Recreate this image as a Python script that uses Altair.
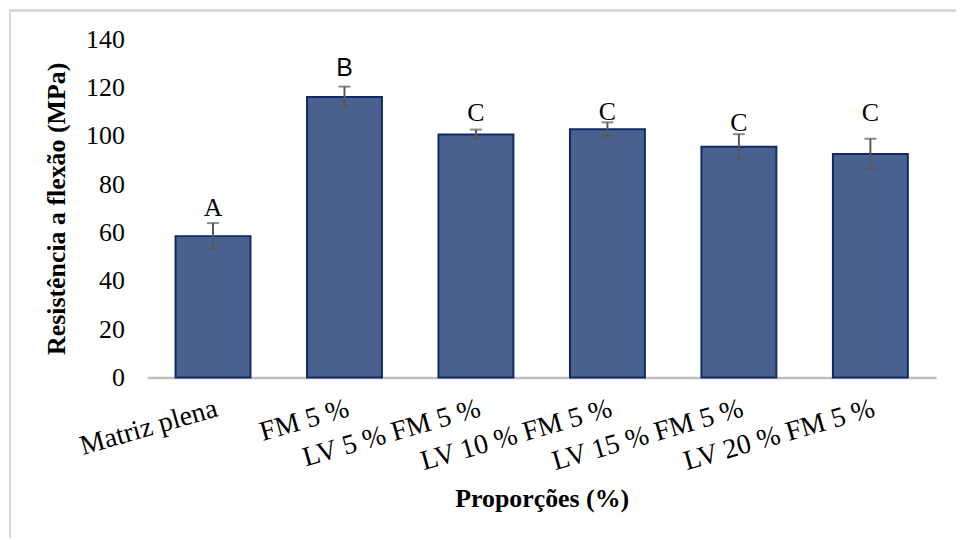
import altair as alt
import pandas as pd

categories = ["Matriz plena", "FM 5 %", "LV 5 % FM 5 %", "LV 10 % FM 5 %", "LV 15 % FM 5 %", "LV 20 % FM 5 %"]
means = [58.5, 116.1, 100.6, 102.7, 95.5, 92.5]
sds = [5.4, 4.3, 2.0, 2.9, 5.2, 6.3]
letters = ["A", "B", "C", "C", "C", "C"]
letter_y = [66.7, 124.8, 106.2, 106.6, 102.1, 106.2]

df = pd.DataFrame({
    "cat": categories,
    "mean": means,
    "lo": [m - s for m, s in zip(means, sds)],
    "hi": [m + s for m, s in zip(means, sds)],
    "letter": letters,
    "ly": letter_y,
})

SERIF = "Liberation Serif"

x_axis = alt.Axis(title="Proporções (%)", labelAngle=-16, labelAlign="right",
                  labelBaseline="top", labelPadding=17, labelFont=SERIF,
                  labelFontSize=28, labelColor="black", labelLimit=400,
                  titleFont=SERIF, titleFontSize=26, titleFontWeight="bold",
                  titleColor="black", titlePadding=10, ticks=False, grid=False,
                  domain=True, domainColor="#c0c0c0", domainWidth=2.5)
y_axis = alt.Axis(title="Resistência a flexão (MPa)", values=[0, 20, 40, 60, 80, 100, 120, 140],
                  grid=False, ticks=False, domain=False, labelPadding=23,
                  labelFont=SERIF, labelFontSize=26, labelColor="black",
                  titleFont=SERIF, titleFontSize=26, titleFontWeight="bold",
                  titleColor="black", titlePadding=16)

xscale = alt.Scale(paddingInner=0.43, paddingOuter=0.215)
yscale = alt.Scale(domain=[0, 140], nice=False)

xs = alt.X("cat:N", sort=categories, scale=xscale, axis=x_axis)

bars = alt.Chart(df).mark_bar(color="#4A6190", stroke="#0F2A66", strokeWidth=2).encode(
    x=xs, y=alt.Y("mean:Q", scale=yscale, axis=y_axis))

err = alt.Chart(df).mark_rule(color="#595959", strokeWidth=2).encode(
    x=xs, y=alt.Y("lo:Q", scale=yscale, axis=y_axis), y2="hi:Q")
cap_hi = alt.Chart(df).mark_tick(color="#595959", size=12, thickness=2).encode(
    x=xs, y=alt.Y("hi:Q", scale=yscale, axis=y_axis))
cap_lo = alt.Chart(df).mark_tick(color="#595959", size=12, thickness=2).encode(
    x=xs, y=alt.Y("lo:Q", scale=yscale, axis=y_axis))

txt_serif = alt.Chart(df).transform_filter(alt.datum.letter != "B").mark_text(
    font=SERIF, fontSize=26, baseline="alphabetic", color="black").encode(
    x=xs, y=alt.Y("ly:Q", scale=yscale, axis=y_axis), text="letter:N")
txt_sans = alt.Chart(df).transform_filter(alt.datum.letter == "B").mark_text(
    font="Liberation Sans", fontSize=25, baseline="alphabetic", color="black").encode(
    x=xs, y=alt.Y("ly:Q", scale=yscale, axis=y_axis), text="letter:N")

frame_left = alt.Chart(df).mark_rule(stroke="#d9d9d9", strokeWidth=2).encode(
    x=alt.value(-138), y=alt.value(-30), y2=alt.value(1000))
frame_top = alt.Chart(df).mark_rule(stroke="#d9d9d9", strokeWidth=2).encode(
    x=alt.value(-139), x2=alt.value(1200), y=alt.value(-29))

chart = alt.layer(frame_left, frame_top, bars, err, cap_hi, cap_lo, txt_serif, txt_sans).properties(
    width=793, height=340,
    background="white",
    view=alt.ViewBackground(stroke="transparent", strokeWidth=0),
    autosize=alt.AutoSizeParams(type="none"),
    padding={"left": 140, "top": 30, "right": 20, "bottom": 160},
).configure_view(strokeWidth=0, stroke="transparent").configure_axis(grid=False)

chart.save("out.html", embed_options={"renderer": "svg", "actions": False})
